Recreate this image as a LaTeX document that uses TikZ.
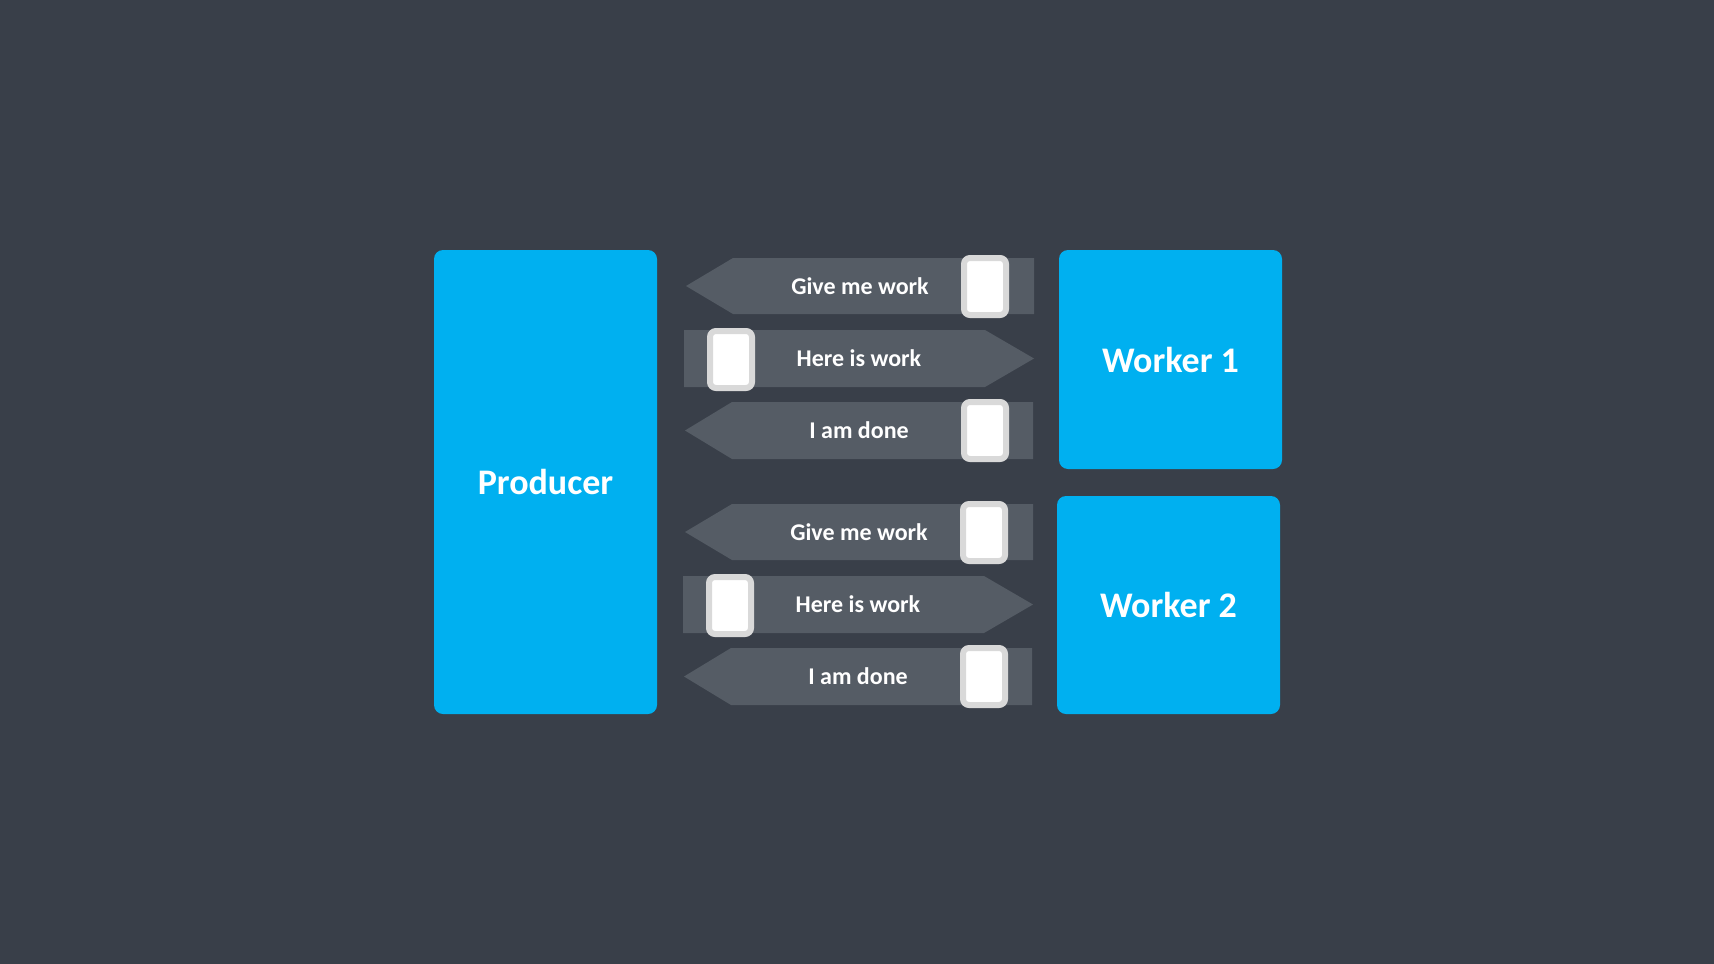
\documentclass[tikz,border=0pt]{standalone}
\usepackage{fontspec}
\setmainfont{Carlito}
\definecolor{bgc}{HTML}{393F49}
\definecolor{bluec}{HTML}{00B0F0}
\definecolor{arrc}{HTML}{555C65}
\definecolor{sqb}{HTML}{D9D9D9}
\tikzset{
  box/.style={fill=bluec, rounded corners=9pt, text=white, font=\bfseries\fontsize{36}{42}\selectfont},
  lbl/.style={text=white, font=\bfseries\fontsize{24}{29}\selectfont, inner sep=0pt},
  flag/.style={fill=arrc},
  tok/.style={draw=sqb, line width=6pt, fill=white, rounded corners=6pt, minimum width=42pt, minimum height=57pt, inner sep=0pt},
  channel/.pic={
    \fill[flag] (686,286) -- (733,258) -- (1034,258) -- (1034,314) -- (733,314) -- cycle;
    \fill[flag] (684,330) -- (985,330) -- (1034,358.5) -- (985,387) -- (684,387) -- cycle;
    \fill[flag] (685,430.5) -- (732,402) -- (1033,402) -- (1033,459) -- (732,459) -- cycle;
    \node[tok] (-t1) at (985,286.5) {};
    \node[tok] (-t2) at (731,359.5) {};
    \node[tok] (-t3) at (985,430.5) {};
    \node[lbl] (-give) at (860,286) {Give me work};
    \node[lbl] (-here) at (859,358.5) {Here is work};
    \node[lbl] (-done) at (859,430.5) {I am done};
  }
}
\begin{document}
\begin{tikzpicture}[x=1pt,y=-1pt]
\fill[bgc] (0,0) rectangle (1714,964);
\useasboundingbox (0,0) rectangle (1714,964);
\node[box, minimum width=223pt, minimum height=464pt] (producer) at (545.5,482) {Producer};
\node[box, minimum width=223pt, minimum height=219pt] (worker1) at (1170.5,359.5) {Worker 1};
\node[box, minimum width=223pt, minimum height=218pt] (worker2) at (1168.5,605) {Worker 2};
\pic (g1) at (0,0) {channel};
\pic (g2) at (-1,246) {channel};
\end{tikzpicture}
\end{document}
